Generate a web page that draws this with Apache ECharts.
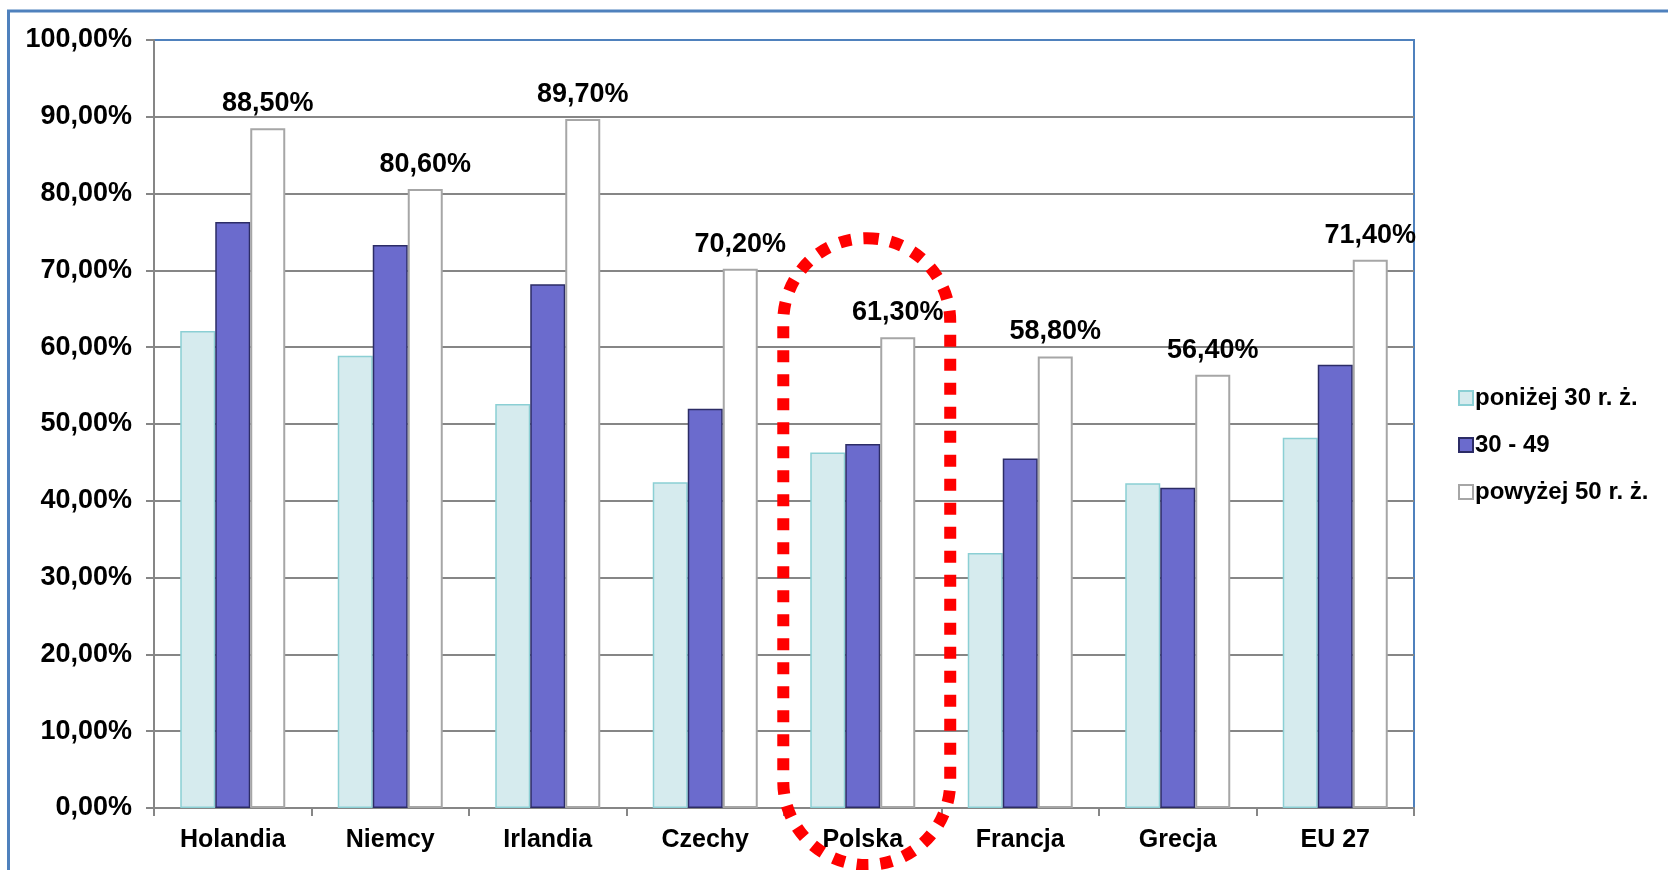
<!DOCTYPE html>
<html>
<head>
<meta charset="utf-8">
<title>Wskaźnik według wieku</title>
<script src="https://cdn.jsdelivr.net/npm/echarts@6/dist/echarts.min.js"></script>
<style>
  html, body { margin: 0; padding: 0; background: #ffffff; }
  #chart { width: 1668px; height: 870px; }
</style>
</head>
<body>
<div id="chart"></div>
<script>
// Countries along the category axis
const categories = ['Holandia', 'Niemcy', 'Irlandia', 'Czechy', 'Polska', 'Francja', 'Grecja', 'EU 27'];

// Series names (age groups)
const seriesNames = ['poniżej 30 r. ż.', '30 - 49', 'powyżej 50 r. ż.'];

// Values in percent
const under30 = [62.1, 58.9, 52.6, 42.4, 46.3, 33.2, 42.3, 48.2];
const age30to49 = [76.3, 73.3, 68.2, 52.0, 47.4, 45.5, 41.7, 57.7];
const over50 = [88.5, 80.6, 89.7, 70.2, 61.3, 58.8, 56.4, 71.4];

// Value axis range
const yMin = 0;
const yMax = 100;
const yStep = 10;

// Highlighted category
const highlighted = 'Polska';

const FONT = '"Liberation Sans", Arial, sans-serif';
const pct = v => Number(v).toFixed(2).replace('.', ',') + '%';

const chart = echarts.init(document.getElementById('chart'), null, { renderer: 'canvas' });

const barBase = {
  type: 'bar',
  barWidth: 35,
  barGap: '0%',
  emphasis: { disabled: true }
};

chart.setOption({
  animation: false,
  backgroundColor: '#ffffff',
  textStyle: { fontFamily: FONT },
  grid: {
    left: 154, right: 254, top: 40, bottom: 62,
    show: true,
    borderColor: '#4F81BD',
    borderWidth: 2,
    backgroundColor: 'transparent'
  },
  legend: {
    orient: 'vertical',
    left: 1453,
    top: 381,
    itemWidth: 14,
    itemHeight: 14,
    itemGap: 23,
    icon: 'rect',
    textStyle: { fontFamily: FONT, fontSize: 24, fontWeight: 'bold', color: '#000', lineHeight: 23, padding: [0, 0, 0, -3] },
    data: seriesNames
  },
  xAxis: {
    type: 'category',
    data: categories,
    boundaryGap: true,
    axisLine: { lineStyle: { color: '#868686', width: 2 } },
    axisTick: { show: true, length: 8, lineStyle: { color: '#868686', width: 2 } },
    axisLabel: { fontFamily: FONT, fontSize: 25, fontWeight: 'bold', color: '#000', margin: 20 },
    splitLine: { show: false }
  },
  yAxis: {
    type: 'value',
    min: yMin, max: yMax, interval: yStep,
    axisLine: { show: true, lineStyle: { color: '#868686', width: 2 } },
    axisTick: { show: true, length: 8, lineStyle: { color: '#868686', width: 2 } },
    axisLabel: { fontFamily: FONT, fontSize: 27, fontWeight: 'bold', color: '#000', margin: 22, formatter: pct },
    splitLine: { show: true, showMaxLine: false, lineStyle: { color: '#868686', width: 2 } }
  },
  series: [
    Object.assign({}, barBase, {
      name: seriesNames[0],
      data: under30,
      itemStyle: { color: '#D6EBEE', borderColor: '#8BCFD4', borderWidth: 1.5 }
    }),
    Object.assign({}, barBase, {
      name: seriesNames[1],
      data: age30to49,
      itemStyle: { color: '#6B6BCD', borderColor: '#2C2C66', borderWidth: 1.5 }
    }),
    Object.assign({}, barBase, {
      name: seriesNames[2],
      data: over50,
      itemStyle: { color: '#FFFFFF', borderColor: '#A6A6A6', borderWidth: 2 },
      label: {
        show: true,
        position: 'top',
        distance: 11,
        fontFamily: FONT,
        fontSize: 27,
        fontWeight: 'bold',
        color: '#000',
        formatter: p => pct(p.value)
      }
    })
  ]
});

// Outer frame and the dotted highlight around one category
function drawOverlay() {
  const cx = chart.convertToPixel({ xAxisIndex: 0 }, highlighted);
  const step = chart.convertToPixel({ xAxisIndex: 0 }, categories[1]) - chart.convertToPixel({ xAxisIndex: 0 }, categories[0]);
  const top = chart.convertToPixel({ yAxisIndex: 0 }, 74.2);
  const base = chart.convertToPixel({ yAxisIndex: 0 }, 0);
  const w = step * 1.06;
  const x0 = cx + 4 - w / 2;
  const bottom = base + 57;
  chart.setOption({
    graphic: [
      {
        type: 'rect', silent: true, z: 100,
        shape: { x: 8.5, y: 11, width: 3000, height: 3000 },
        style: { fill: null, stroke: '#4F81BD', lineWidth: 3 }
      },
      {
        type: 'rect', silent: true, z: 101,
        shape: { x: x0, y: top, width: w, height: bottom - top, r: w / 2 },
        style: { fill: null, stroke: '#FF0000', lineWidth: 12, lineDash: [12, 12] }
      }
    ]
  });
}
drawOverlay();
</script>
</body>
</html>
